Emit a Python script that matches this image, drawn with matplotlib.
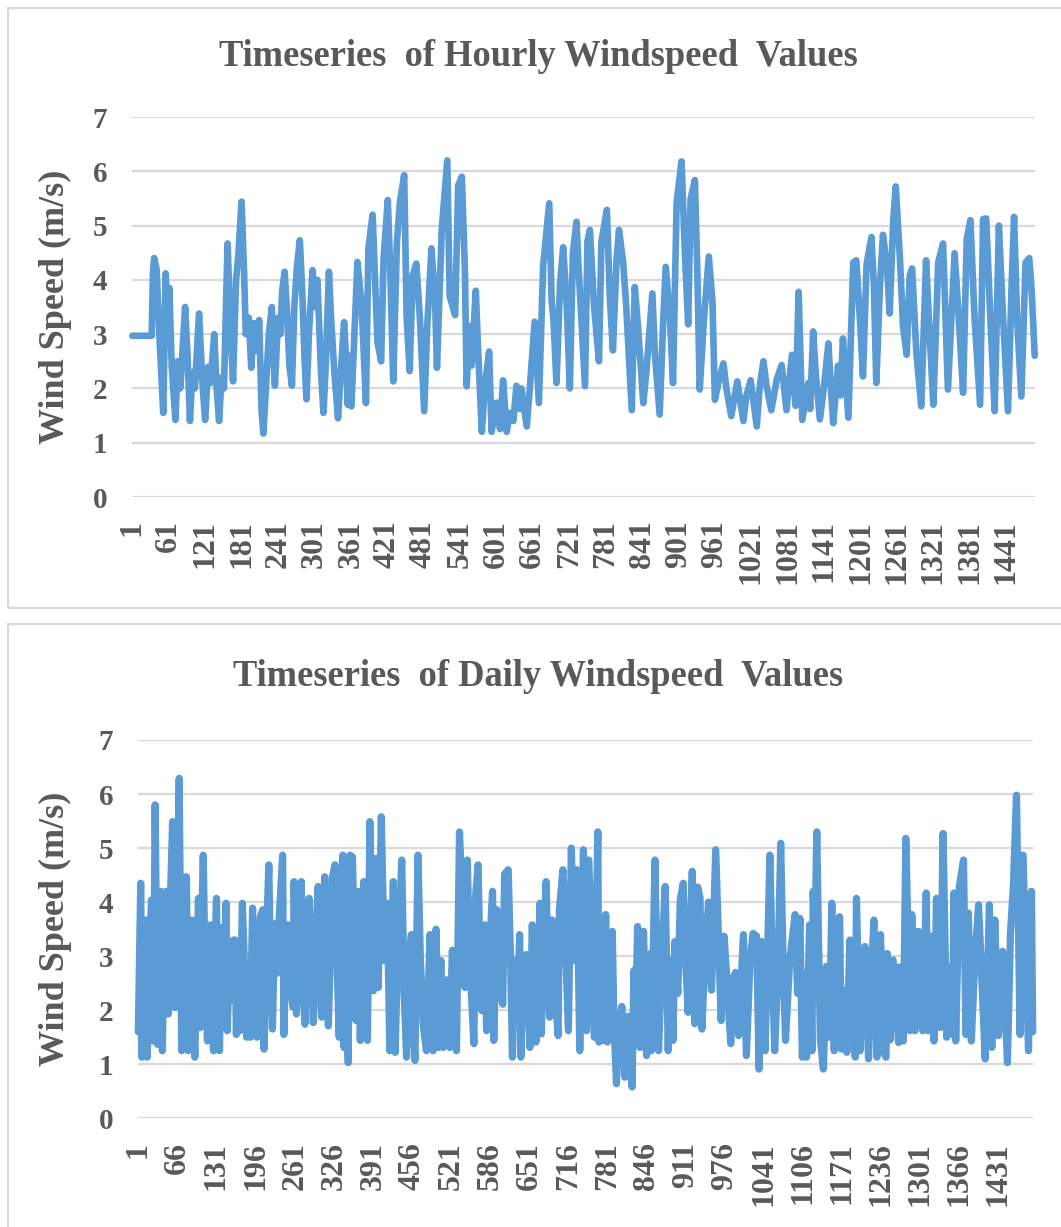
import matplotlib
matplotlib.use("Agg")
import matplotlib.pyplot as plt
from matplotlib.patches import Rectangle
import numpy as np

# ---------------- data ----------------
n_points = 1488

hourly_x = [1, 33, 35, 37, 41, 46, 52, 56, 60, 62, 66, 72, 76, 80, 88, 92, 96, 100, 104, 111,
            116, 121, 126, 130, 136, 140, 144, 148, 152, 158, 163, 167, 172, 176, 181, 185, 188, 193, 197, 202,
            206, 210, 214, 217, 221, 226, 231, 234, 236, 241, 245, 248, 252, 256, 260, 264, 268, 272, 277, 281,
            285, 288, 292, 298, 302, 306, 312, 316, 320, 325, 329, 334, 340, 344, 350, 354, 356, 360, 362, 372,
            379, 386, 390, 397, 405, 411, 415, 422, 426, 431, 437, 442, 449, 453, 458, 463, 469, 475, 482, 487,
            494, 500, 503, 511, 520, 524, 533, 538, 544, 549, 552, 557, 560, 567, 571, 577, 582, 589, 593, 601,
            607, 612, 618, 623, 629, 634, 640, 642, 651, 656, 664, 671, 678, 688, 692, 695, 700, 706, 711, 717,
            722, 727, 733, 736, 741, 747, 751, 755, 762, 770, 774, 783, 788, 793, 799, 803, 810, 815, 824, 829,
            835, 843, 848, 858, 862, 870, 876, 880, 887, 892, 898, 906, 912, 917, 921, 928, 932, 936, 943, 951,
            957, 961, 968, 975, 980, 988, 998, 1008, 1013, 1020, 1030, 1035, 1041, 1046, 1054, 1063, 1071, 1079, 1088, 1094,
            1099, 1105, 1115, 1118, 1123, 1127, 1134, 1141, 1148, 1152, 1156, 1164, 1168, 1172, 1181, 1189, 1194, 1200, 1205, 1211,
            1219, 1223, 1227, 1233, 1238, 1245, 1249, 1255, 1259, 1266, 1271, 1277, 1282, 1286, 1293, 1301, 1309, 1315, 1321, 1329,
            1337, 1342, 1345, 1356, 1363, 1370, 1376, 1382, 1389, 1398, 1403, 1408, 1415, 1422, 1429, 1436, 1444, 1450, 1454, 1459,
            1466, 1473, 1479, 1483, 1488]
hourly_ws = [2.97, 2.97, 4.10, 4.40, 4.20, 2.90, 1.55, 4.12, 3.00, 3.85, 2.40, 1.42, 2.50, 2.00, 3.50, 2.60, 1.40, 2.30, 2.00, 3.38,
             2.20, 1.42, 2.40, 2.10, 3.00, 2.00, 1.40, 2.20, 2.00, 4.67, 3.00, 2.13, 4.00, 4.50, 5.44, 4.20, 3.00, 3.30, 2.38, 3.20,
             2.70, 3.26, 1.60, 1.17, 2.00, 3.00, 3.50, 2.50, 2.05, 3.30, 3.00, 3.80, 4.15, 3.40, 2.40, 2.05, 3.50, 4.20, 4.73, 3.80,
             2.50, 1.80, 3.00, 4.18, 3.50, 4.00, 2.30, 1.55, 2.50, 4.15, 3.20, 2.30, 1.45, 2.20, 3.22, 2.40, 1.70, 2.60, 1.67, 4.33,
             3.52, 1.73, 4.57, 5.20, 2.85, 2.50, 4.38, 5.47, 4.20, 2.13, 4.69, 5.43, 5.93, 3.34, 2.32, 4.08, 4.30, 3.28, 1.58, 3.15,
             4.58, 3.60, 2.38, 4.94, 6.20, 3.70, 3.35, 5.74, 5.90, 4.20, 2.04, 3.15, 2.42, 3.80, 2.66, 1.20, 2.05, 2.68, 1.20, 1.74,
             1.25, 2.15, 1.20, 1.55, 1.40, 2.05, 1.62, 2.00, 1.30, 2.00, 3.23, 1.73, 4.26, 5.41, 3.60, 3.28, 2.10, 3.95, 4.60, 3.50,
             2.00, 4.50, 5.07, 4.30, 3.28, 2.04, 4.70, 4.92, 3.50, 2.50, 4.70, 5.29, 3.65, 2.70, 4.38, 4.92, 4.30, 3.50, 1.60, 3.87,
             3.03, 1.73, 2.30, 3.75, 2.66, 1.52, 3.28, 4.24, 3.28, 2.10, 5.43, 6.18, 4.38, 3.18, 5.49, 5.84, 4.20, 1.98, 3.28, 4.43,
             3.60, 1.79, 2.17, 2.46, 2.00, 1.49, 2.13, 1.40, 1.87, 2.15, 1.30, 2.05, 2.50, 2.05, 1.60, 2.17, 2.43, 1.60, 2.62, 1.68,
             3.78, 1.42, 2.10, 1.62, 3.05, 2.30, 1.43, 2.05, 2.83, 2.05, 1.36, 2.42, 1.87, 2.92, 1.46, 4.32, 4.36, 3.28, 2.22, 4.29,
             4.79, 3.90, 2.10, 3.90, 4.83, 4.20, 3.38, 5.12, 5.72, 4.38, 3.15, 2.62, 4.08, 4.21, 2.66, 1.67, 4.36, 2.97, 1.70, 4.32,
             4.67, 2.97, 1.98, 4.49, 3.28, 1.92, 4.75, 5.10, 3.28, 1.70, 5.12, 5.13, 3.28, 1.58, 5.00, 3.28, 1.58, 3.90, 5.16, 3.28,
             1.85, 4.32, 4.40, 3.80, 2.60]

daily_x = [1, 5, 7, 10, 14, 16, 19, 23, 26, 29, 33, 36, 38, 41, 44, 47, 51, 54, 58, 62,
           65, 69, 73, 77, 81, 84, 87, 90, 92, 95, 98, 101, 104, 106, 109, 112, 116, 118, 121, 123,
           126, 128, 131, 133, 136, 138, 141, 144, 147, 149, 152, 155, 159, 162, 164, 167, 170, 174, 178, 181,
           184, 187, 191, 194, 198, 201, 204, 208, 210, 213, 218, 221, 224, 228, 231, 235, 241, 243, 246, 250,
           254, 258, 260, 264, 269, 272, 275, 278, 282, 285, 289, 292, 296, 300, 303, 306, 308, 311, 314, 317,
           321, 324, 328, 332, 335, 337, 341, 343, 346, 350, 353, 357, 361, 363, 367, 370, 373, 376, 379, 382,
           386, 389, 392, 396, 400, 405, 410, 415, 419, 422, 425, 428, 432, 435, 439, 443, 447, 451, 455, 458,
           461, 466, 470, 475, 480, 486, 491, 496, 500, 504, 508, 512, 515, 519, 523, 527, 530, 535, 539, 544,
           548, 552, 556, 559, 562, 566, 569, 572, 574, 577, 580, 584, 590, 592, 597, 600, 603, 607, 610, 616,
           620, 623, 627, 632, 635, 637, 641, 646, 652, 656, 662, 666, 669, 671, 679, 682, 685, 689, 694, 699,
           701, 707, 712, 716, 721, 725, 730, 735, 741, 746, 750, 755, 759, 765, 767, 771, 775, 778, 781, 785,
           789, 792, 796, 800, 805, 810, 816, 820, 822, 825, 828, 831, 835, 841, 846, 852, 854, 860, 863, 866,
           871, 877, 882, 885, 890, 893, 898, 902, 907, 911, 915, 922, 926, 931, 935, 938, 943, 949, 954, 961,
           965, 970, 975, 981, 986, 990, 994, 999, 1007, 1012, 1018, 1023, 1029, 1033, 1038, 1043, 1047, 1051, 1055, 1059,
           1065, 1069, 1073, 1077, 1084, 1093, 1097, 1101, 1105, 1109, 1112, 1117, 1121, 1123, 1126, 1129, 1132, 1135, 1140, 1145,
           1150, 1154, 1158, 1162, 1167, 1170, 1176, 1179, 1184, 1189, 1193, 1195, 1201, 1205, 1209, 1215, 1220, 1224, 1229, 1235,
           1240, 1244, 1246, 1251, 1256, 1265, 1266, 1273, 1277, 1281, 1284, 1287, 1292, 1298, 1305, 1311, 1314, 1320, 1324, 1328,
           1334, 1339, 1345, 1350, 1355, 1357, 1360, 1366, 1373, 1377, 1381, 1386, 1392, 1398, 1403, 1409, 1416, 1420, 1425, 1431,
           1438, 1446, 1451, 1456, 1461, 1467, 1472, 1481, 1486, 1488]
daily_ws = [1.60, 4.35, 1.13, 2.68, 3.67, 1.13, 2.98, 4.04, 1.43, 5.80, 1.37, 3.29, 4.20, 1.25, 3.29, 4.20, 1.93, 3.90, 5.49, 2.05,
            3.90, 6.29, 1.25, 3.29, 4.47, 1.25, 2.68, 3.67, 2.06, 1.13, 2.68, 4.07, 1.68, 3.29, 4.87, 2.68, 1.43, 3.29, 3.58, 2.06,
            1.25, 2.98, 4.07, 2.06, 1.25, 2.68, 3.54, 1.75, 3.98, 1.62, 2.98, 2.18, 3.30, 3.30, 1.55, 2.68, 1.62, 3.98, 2.68, 1.50,
            2.68, 1.50, 3.89, 2.68, 1.50, 2.98, 3.73, 3.86, 1.28, 2.98, 4.69, 2.68, 1.65, 3.60, 2.68, 3.66, 4.87, 1.55, 3.29, 3.58,
            2.37, 2.06, 4.38, 1.93, 3.29, 4.38, 2.68, 1.74, 3.29, 4.07, 2.68, 1.77, 3.29, 4.29, 2.68, 1.87, 3.29, 4.47, 2.68, 1.71,
            3.29, 4.47, 4.69, 2.68, 1.50, 3.86, 4.87, 1.31, 3.29, 1.03, 4.87, 4.84, 2.92, 1.81, 4.20, 1.44, 2.92, 4.38, 2.31, 1.44,
            5.49, 3.54, 2.36, 4.81, 2.42, 5.58, 2.92, 3.98, 1.25, 2.92, 4.38, 1.22, 2.92, 3.54, 4.78, 2.31, 1.13, 2.92, 3.40, 1.70,
            1.07, 4.87, 2.92, 1.70, 1.25, 3.40, 1.25, 3.50, 1.31, 2.92, 1.31, 2.56, 2.56, 1.31, 3.11, 2.92, 1.25, 5.30, 4.15, 2.42,
            4.78, 2.92, 2.00, 1.38, 4.15, 4.69, 2.92, 1.99, 3.23, 3.58, 1.62, 2.92, 4.20, 1.44, 3.86, 2.92, 2.31, 2.11, 4.52, 4.60,
            2.92, 1.13, 2.92, 2.31, 3.40, 1.13, 2.92, 3.03, 1.31, 3.58, 1.41, 2.92, 3.98, 1.56, 4.38, 2.92, 1.87, 3.67, 2.31, 1.53,
            3.85, 4.60, 2.92, 1.62, 5.00, 2.92, 4.60, 1.25, 4.97, 1.62, 4.78, 2.92, 1.50, 5.30, 1.41, 2.92, 1.44, 3.77, 1.41, 2.92,
            3.46, 1.70, 0.64, 1.70, 2.07, 0.76, 1.89, 1.08, 0.58, 2.74, 1.70, 3.55, 1.31, 3.46, 1.16, 3.05, 1.25, 4.78, 2.92, 1.25,
            2.92, 4.29, 1.25, 2.92, 1.44, 3.27, 2.31, 4.03, 4.35, 2.92, 1.96, 4.57, 1.75, 4.28, 4.07, 1.65, 2.92, 4.00, 2.37, 4.97,
            3.54, 1.81, 3.37, 2.31, 1.38, 2.60, 2.70, 1.53, 3.40, 1.16, 2.92, 3.42, 3.37, 0.91, 3.27, 1.25, 2.92, 4.87, 2.92, 1.25,
            2.92, 5.09, 2.92, 1.44, 2.92, 3.77, 2.31, 3.70, 1.13, 2.68, 1.13, 3.58, 1.25, 4.20, 3.29, 5.30, 3.29, 1.45, 0.91, 2.81,
            1.50, 3.98, 1.25, 3.29, 3.73, 1.28, 2.37, 1.22, 3.30, 2.06, 1.13, 4.07, 1.25, 2.55, 3.18, 1.10, 2.68, 3.67, 1.13, 3.40,
            1.25, 1.13, 3.05, 1.45, 2.93, 1.40, 2.80, 1.43, 5.18, 3.29, 1.62, 3.77, 1.62, 3.46, 1.62, 4.17, 1.62, 3.37, 1.43, 4.07,
            1.68, 5.27, 1.50, 2.81, 1.55, 4.17, 1.43, 4.29, 4.78, 1.55, 3.80, 1.43, 2.98, 3.95, 2.68, 1.10, 3.95, 1.31, 3.67, 1.53,
            3.09, 1.03, 3.42, 4.34, 5.98, 1.55, 4.87, 1.25, 4.20, 1.60]

hourly_tick_labels = [1, 61, 121, 181, 241, 301, 361, 421, 481, 541, 601, 661, 721, 781, 841,
                      901, 961, 1021, 1081, 1141, 1201, 1261, 1321, 1381, 1441]
daily_tick_labels = [1, 66, 131, 196, 261, 326, 391, 456, 521, 586, 651, 716, 781, 846, 911,
                     976, 1041, 1106, 1171, 1236, 1301, 1366, 1431]

titles = ["Timeseries  of Hourly Windspeed  Values", "Timeseries  of Daily Windspeed  Values"]
y_label = "Wind Speed (m/s)"
y_ticks = [0, 1, 2, 3, 4, 5, 6, 7]

# ---------------- style ----------------
W, H = 1061, 1227
BLUE = "#5B9BD5"
TXT = "#595959"
GRID = "#D9D9D9"
FONT = "Liberation Serif"

fig = plt.figure(figsize=(W / 100, H / 100), dpi=100)
fig.patch.set_facecolor("white")

def rect_px(x0, y0, x1, y1):
    return Rectangle((x0 / W, 1 - y1 / H), (x1 - x0) / W, (y1 - y0) / H,
                     transform=fig.transFigure, fill=False, edgecolor=GRID, lw=1.5, zorder=0)

fig.patches.append(rect_px(8, 8, 1080, 608))
fig.patches.append(rect_px(8, 624, 1080, 1240))

def panel(ax_px, xs, ys, ticks, title, title_y, ylab_y, lw):
    x0, x1, y7, y0 = ax_px
    ax = fig.add_axes([x0 / W, 1 - y0 / H, (x1 - x0) / W, (y0 - y7) / H])
    ax.plot(xs, ys, color=BLUE, lw=lw, solid_joinstyle="round", solid_capstyle="round",
            zorder=3, clip_on=False)
    ax.set_xlim(0.5, n_points + 0.5)
    ax.set_ylim(0, 7)
    ax.set_yticks(y_ticks)
    ax.set_xticks(ticks)
    ax.set_xticklabels([str(t) for t in ticks], rotation=90)
    ax.yaxis.grid(True, color=GRID, lw=1.6)
    ax.set_axisbelow(True)
    for s in ax.spines.values():
        s.set_visible(False)
    ax.tick_params(length=0, labelcolor=TXT)
    ax.tick_params(axis="y", pad=18, labelsize=21)
    ax.tick_params(axis="x", pad=17, labelsize=23)
    for lab in ax.get_xticklabels() + ax.get_yticklabels():
        lab.set_fontfamily(FONT)
        lab.set_fontweight("bold")
    ax.set_facecolor("none")
    fig.text(538 / W, 1 - title_y / H, title, ha="center", va="center", fontsize=26.3,
             fontweight="bold", color=TXT, family=FONT)
    fig.text(55 / W, 1 - ylab_y / H, y_label, ha="center", va="center", rotation=90,
             fontsize=26, fontweight="bold", color=TXT, family=FONT)
    return ax

panel((132, 1035, 117, 497), hourly_x, hourly_ws, hourly_tick_labels, titles[0], 57, 307, 4.8)
panel((138, 1033, 740, 1118.3), daily_x, daily_ws, daily_tick_labels, titles[1], 677, 929, 5.2)

fig.savefig("out.png", dpi=100, facecolor="white")
